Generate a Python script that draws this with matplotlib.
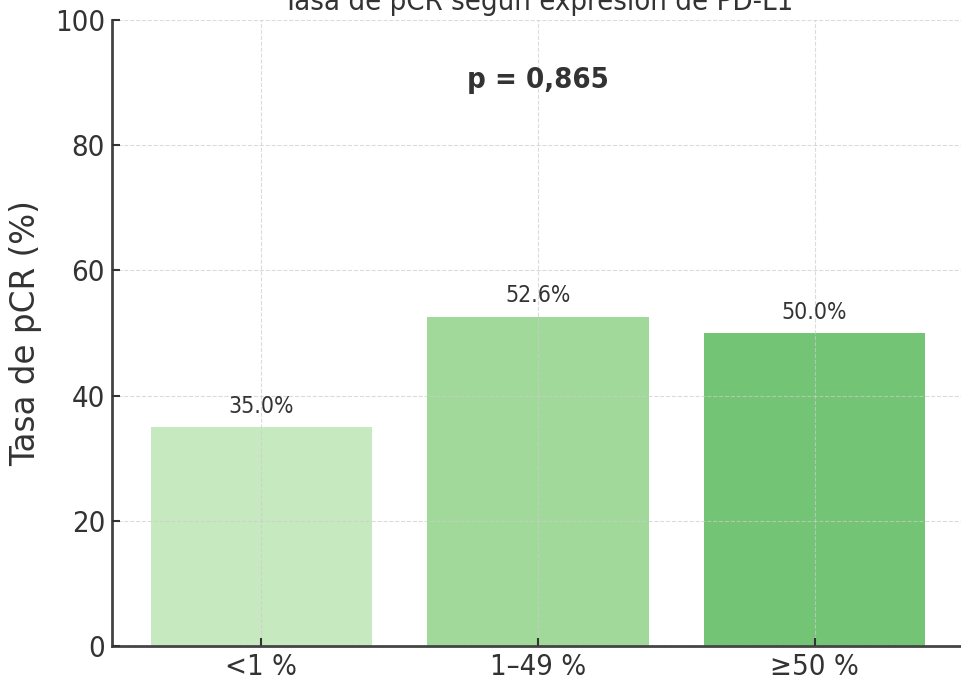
import matplotlib
matplotlib.use("Agg")
import matplotlib.pyplot as plt

# pCR rate by PD-L1 expression group
categories = ["<1 %", "1–49 %", "≥50 %"]
pcr_rate = [35.0, 52.6, 50.0]
bar_colors = ["#c7e9c0", "#a1d99b", "#74c476"]
p_value_text = "p = 0,865"
yticks = [0, 20, 40, 60, 80, 100]

TEXT = "#333333"
COND = dict(family="DejaVu Sans", stretch="condensed")

fig = plt.figure(figsize=(9.61, 6.88), dpi=100)
ax = fig.add_axes([112 / 961, 42 / 688, 852 / 961, 626 / 688])

x = range(len(categories))
ax.bar(x, pcr_rate, width=0.8, color=bar_colors, zorder=1)

for xi, v in zip(x, pcr_rate):
    ax.text(xi, v + 1.5, f"{v:.1f}%", ha="center", va="bottom",
            fontsize=16.5, color=TEXT, **COND)

ax.text(0.5, 0.904, p_value_text, transform=ax.transAxes, ha="center", va="center",
        fontsize=21, fontweight="bold", color=TEXT, **COND)

ax.set_xlim(-0.54, 2.54)
ax.set_ylim(0, 100)
ax.set_xticks(list(x))
ax.set_xticklabels(categories)
ax.set_yticks(yticks)

for lbl in ax.get_xticklabels() + ax.get_yticklabels():
    lbl.set_fontfamily("DejaVu Sans")
    lbl.set_fontstretch("condensed")
    lbl.set_fontsize(21)
    lbl.set_color(TEXT)

ax.set_ylabel("Tasa de pCR (%)", fontsize=23.5, color=TEXT, labelpad=9)
ax.set_title("Tasa de pCR según expresión de PD-L1", fontsize=21, color=TEXT,
             pad=7, **COND)

ax.tick_params(direction="in", length=6, width=1.5, color=TEXT, pad=5)
ax.grid(True, linestyle="--", linewidth=0.8, color="#cccccc", alpha=0.7)
ax.set_axisbelow(False)

for side in ("top", "right"):
    ax.spines[side].set_visible(False)
for side in ("left", "bottom"):
    ax.spines[side].set_color("#444444")
    ax.spines[side].set_linewidth(2)

fig.savefig("out.png", dpi=100)
